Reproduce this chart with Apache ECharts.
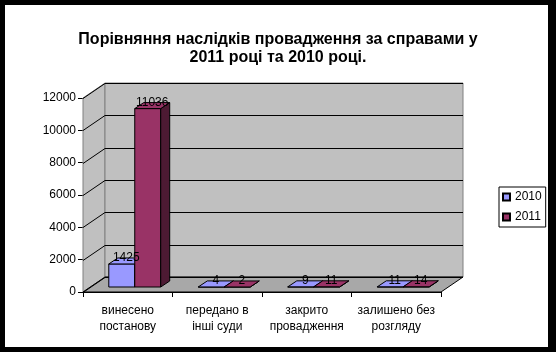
<!DOCTYPE html>
<html>
<head>
<meta charset="utf-8">
<script src="https://cdn.jsdelivr.net/npm/echarts@6/dist/echarts.min.js"></script>
<style>
  html, body { margin: 0; padding: 0; background: #000; }
  #chart { width: 556px; height: 352px; }
</style>
</head>
<body>
<div id="chart"></div>
<script>
const categories = ['винесено\nпостанову', 'передано в\nінші суди', 'закрито\nпровадження', 'залишено без\nрозгляду'];
const values2010 = [1425, 4, 9, 11];
const values2011 = [11036, 2, 11, 14];
const yMax = 12000;
const yStep = 2000;

// depth of the 3d box and of the bars (px)
const DX = 22, DY = -15;
const FX = 7, FY = -5;   // bar front face offset
const BX = 9, BY = -6;   // bar thickness
const FONT = 'Liberation Sans, Arial, sans-serif';

const chart = echarts.init(document.getElementById('chart'));

function renderWalls(params, api) {
  const cs = params.coordSys;
  const x0 = cs.x, x1 = cs.x + cs.width;
  const yb = api.coord([0, 0])[1];
  const yt = api.coord([0, yMax])[1];
  const children = [
    { type: 'polygon', shape: { points: [[x0, yb], [x0, yt], [x0 + DX, yt + DY], [x0 + DX, yb + DY]] },
      style: { fill: '#c0c0c0', stroke: '#808080', lineWidth: 1 } },
    { type: 'polygon', shape: { points: [[x0 + DX, yt + DY], [x1 + DX, yt + DY], [x1 + DX, yb + DY], [x0 + DX, yb + DY]] },
      style: { fill: '#c0c0c0', stroke: '#808080', lineWidth: 1 } },
    { type: 'polygon', shape: { points: [[x0, yb], [x1, yb], [x1 + DX, yb + DY], [x0 + DX, yb + DY]] },
      style: { fill: '#a8a8a8', stroke: '#000', lineWidth: 1 } }
  ];
  for (let v = 0; v <= yMax; v += yStep) {
    const y = Math.round(api.coord([0, v])[1]) + 0.5;
    children.push({ type: 'line', shape: { x1: x0 + DX, y1: y + DY, x2: x1 + DX, y2: y + DY },
      style: { stroke: '#000', lineWidth: 1 } });
    children.push({ type: 'line', shape: { x1: x0, y1: y, x2: x0 + DX, y2: y + DY },
      style: { stroke: '#000', lineWidth: 1 } });
  }
  return { type: 'group', children: children };
}

// front-face box of one bar
function barBox(api, side) {
  const idx = api.value(0);
  const val = api.value(1);
  const band = api.size([1, 0])[0];
  const base = api.coord([idx, 0]);
  const top = api.coord([idx, val]);
  const w = band * 0.29;
  const xl = (side < 0 ? base[0] - w : base[0]) + FX;
  return { xl: xl, xr: xl + w, yb: base[1] + FY, yt: top[1] + FY, val: val };
}

function makeBarRenderer(side, front, dark) {
  return function (params, api) {
    const b = barBox(api, side);
    const st = { stroke: '#000', lineWidth: 1 };
    return {
      type: 'group',
      children: [
        { type: 'polygon', shape: { points: [[b.xl, b.yt], [b.xr, b.yt], [b.xr, b.yb], [b.xl, b.yb]] },
          style: Object.assign({ fill: front }, st) },
        { type: 'polygon', shape: { points: [[b.xr, b.yt], [b.xr + BX, b.yt + BY], [b.xr + BX, b.yb + BY], [b.xr, b.yb]] },
          style: Object.assign({ fill: dark }, st) },
        { type: 'polygon', shape: { points: [[b.xl, b.yt], [b.xl + BX, b.yt + BY], [b.xr + BX, b.yt + BY], [b.xr, b.yt]] },
          style: Object.assign({ fill: front }, st) }
      ]
    };
  };
}

function makeLabelRenderer(side) {
  return function (params, api) {
    const b = barBox(api, side);
    return {
      type: 'text',
      style: { text: String(b.val), x: (b.xl + b.xr) / 2 + BX / 2, y: b.yt + BY / 2 - 3,
               align: 'center', verticalAlign: 'middle', fill: '#000', font: '12px ' + FONT }
    };
  };
}

const option = {
  backgroundColor: '#000',
  animation: false,
  graphic: [
    { type: 'rect', z: -10, shape: { x: 5, y: 5, width: 543, height: 342 }, style: { fill: '#fff' } }
  ],
  title: {
    text: 'Порівняння наслідків провадження за справами у\n2011 році та 2010 році.',
    left: 'center',
    top: 26,
    textStyle: { fontFamily: FONT, fontSize: 16, fontWeight: 'bold', color: '#000', lineHeight: 18, align: 'center' }
  },
  legend: {
    data: ['2010', '2011'],
    orient: 'vertical',
    left: 499,
    top: 187,
    padding: [4, 4, 4, 3],
    itemGap: 8,
    itemWidth: 7,
    itemHeight: 7,
    icon: 'rect',
    backgroundColor: '#fff',
    borderColor: '#000',
    borderWidth: 1,
    borderRadius: 0,
    textStyle: { fontFamily: FONT, fontSize: 12, color: '#000' }
  },
  grid: { left: 83, right: 115, top: 98, bottom: 60 },
  xAxis: {
    type: 'category',
    data: categories,
    axisLine: { lineStyle: { color: '#000', width: 1 } },
    axisTick: { show: true, length: 5, lineStyle: { color: '#000' } },
    axisLabel: { fontFamily: FONT, fontSize: 12, color: '#000', margin: 11, lineHeight: 16, interval: 0 },
    splitLine: { show: false }
  },
  yAxis: {
    type: 'value',
    min: 0,
    max: yMax,
    interval: yStep,
    axisLine: { show: true, lineStyle: { color: '#000', width: 1 } },
    axisTick: { show: true, length: 5, lineStyle: { color: '#000' } },
    axisLabel: { fontFamily: FONT, fontSize: 12, color: '#000', margin: 7, formatter: v => String(v) },
    splitLine: { show: false }
  },
  series: [
    {
      type: 'custom',
      name: 'walls',
      silent: true,
      z: 1,
      renderItem: renderWalls,
      data: [[0, 0]],
      encode: { x: 0, y: 1 }
    },
    {
      type: 'custom',
      name: '2010',
      z: 2,
      itemStyle: { color: '#9999ff', borderColor: '#000', borderWidth: 1 },
      renderItem: makeBarRenderer(-1, '#9999ff', '#4d4d80'),
      data: values2010.map((v, i) => [i, v]),
      encode: { x: 0, y: 1 }
    },
    {
      type: 'custom',
      name: '2011',
      z: 3,
      itemStyle: { color: '#993366', borderColor: '#000', borderWidth: 1 },
      renderItem: makeBarRenderer(1, '#993366', '#4d1a33'),
      data: values2011.map((v, i) => [i, v]),
      encode: { x: 0, y: 1 }
    },
    {
      type: 'custom',
      name: 'labels2010',
      silent: true,
      z: 10,
      renderItem: makeLabelRenderer(-1),
      data: values2010.map((v, i) => [i, v]),
      encode: { x: 0, y: 1 }
    },
    {
      type: 'custom',
      name: 'labels2011',
      silent: true,
      z: 10,
      renderItem: makeLabelRenderer(1),
      data: values2011.map((v, i) => [i, v]),
      encode: { x: 0, y: 1 }
    }
  ]
};

chart.setOption(option);
</script>
</body>
</html>
